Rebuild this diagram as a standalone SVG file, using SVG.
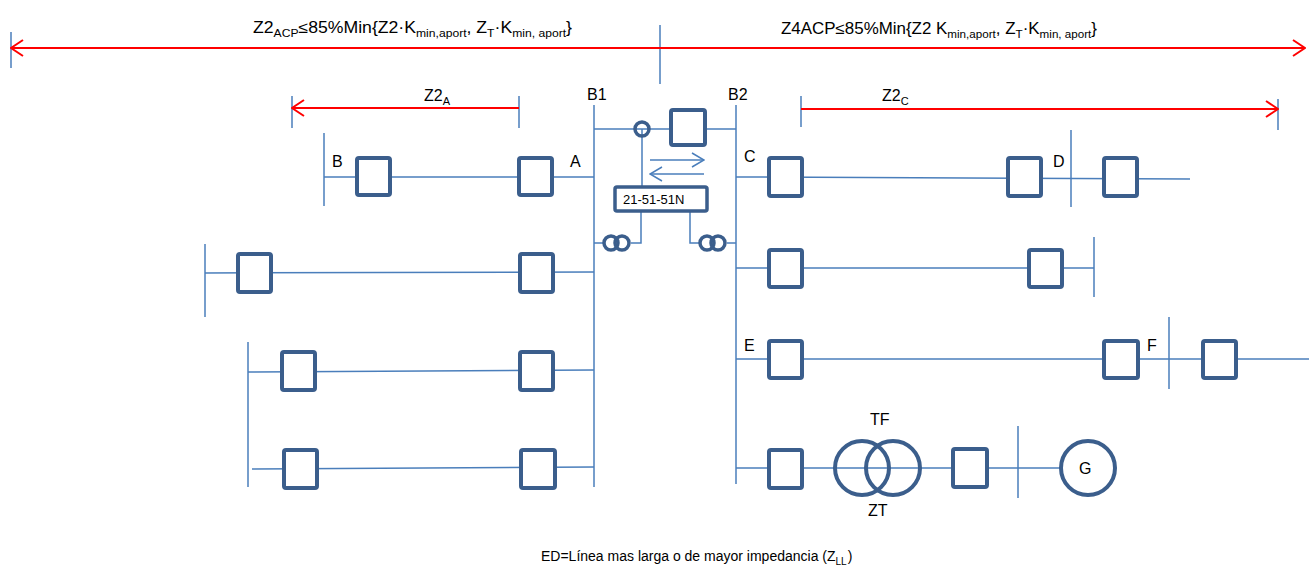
<svg xmlns="http://www.w3.org/2000/svg" width="1309" height="568" viewBox="0 0 1309 568">
<defs>
<style>
.ln{stroke:#4a7ebb;stroke-width:1.5;fill:none}
.rd{stroke:#ff0000;stroke-width:2;fill:none}
.bx{fill:#ffffff;stroke:#3b5e8c;stroke-width:4}
.ci{fill:none;stroke:#3b5e8c;stroke-width:4}
.t{font-family:"Liberation Sans",Arial,sans-serif;font-size:16px;fill:#000}
.s{font-size:11px}
</style>
<marker id="ar" viewBox="0 0 14 18" refX="13" refY="9" markerWidth="14" markerHeight="18" markerUnits="userSpaceOnUse" orient="auto-start-reverse">
<path d="M1,1 L13,9 L1,17" fill="none" stroke="#ff0000" stroke-width="2"/>
</marker>
<marker id="ab" viewBox="0 0 14 16" refX="13" refY="8" markerWidth="14" markerHeight="16" markerUnits="userSpaceOnUse" orient="auto-start-reverse">
<path d="M1,1 L13,8 L1,15" fill="none" stroke="#4a7ebb" stroke-width="1.5"/>
</marker>
</defs>
<rect width="1309" height="568" fill="#ffffff"/>

<g id="connectors">
<line class="ln" x1="11" y1="32" x2="11" y2="68"/>
<line class="ln" x1="660" y1="25" x2="660" y2="84"/>
<line class="rd" x1="11" y1="48" x2="1305" y2="48" marker-start="url(#ar)" marker-end="url(#ar)"/>
<line class="ln" x1="292" y1="96" x2="292" y2="128"/>
<line class="ln" x1="519" y1="96" x2="519" y2="128"/>
<line class="rd" x1="519" y1="108" x2="292" y2="108" marker-end="url(#ar)"/>
<line class="ln" x1="801" y1="96" x2="801" y2="127"/>
<line class="ln" x1="1278" y1="99" x2="1278" y2="130"/>
<line class="rd" x1="801" y1="109" x2="1278" y2="109" marker-end="url(#ar)"/>
<line class="ln" x1="594" y1="105" x2="594" y2="487"/>
<line class="ln" x1="736" y1="105" x2="736" y2="484"/>
<line class="ln" x1="594" y1="129" x2="736" y2="129"/>
<line class="ln" x1="642" y1="129" x2="642" y2="186"/>
<line class="ln" x1="650" y1="160" x2="704" y2="160" marker-end="url(#ab)"/>
<line class="ln" x1="704" y1="174" x2="650" y2="174" marker-end="url(#ab)"/>
<polyline class="ln" points="641,212 641,243 631,243"/>
<line class="ln" x1="594" y1="243" x2="603" y2="243"/>
<polyline class="ln" points="690,212 690,243 699,243"/>
<line class="ln" x1="727" y1="243" x2="736" y2="243"/>
<line class="ln" x1="324" y1="133" x2="324" y2="206"/>
<line class="ln" x1="324" y1="177" x2="594" y2="177"/>
<line class="ln" x1="205" y1="244" x2="205" y2="317"/>
<line class="ln" x1="205" y1="273" x2="594" y2="272"/>
<line class="ln" x1="248" y1="342" x2="248" y2="487"/>
<line class="ln" x1="248" y1="372" x2="594" y2="370"/>
<line class="ln" x1="252" y1="469" x2="594" y2="467"/>
<line class="ln" x1="736" y1="177" x2="1190" y2="179"/>
<line class="ln" x1="1071" y1="130" x2="1071" y2="207"/>
<line class="ln" x1="736" y1="268" x2="1094" y2="268"/>
<line class="ln" x1="1094" y1="237" x2="1094" y2="297"/>
<line class="ln" x1="736" y1="359" x2="1309" y2="359"/>
<line class="ln" x1="1169" y1="317" x2="1169" y2="389"/>
<line class="ln" x1="736" y1="468" x2="1062" y2="468"/>
<line class="ln" x1="1018" y1="426" x2="1018" y2="498"/>
</g>

<g id="texts">
<text class="t" x="253" y="33" textLength="319" lengthAdjust="spacingAndGlyphs">Z2<tspan class="s" dy="4">ACP</tspan><tspan dy="-4">≤85%Min{Z2·K</tspan><tspan class="s" dy="4">min,aport</tspan><tspan dy="-4">, Z</tspan><tspan class="s" dy="4">T</tspan><tspan dy="-4">·K</tspan><tspan class="s" dy="4">min, aport</tspan><tspan dy="-4">}</tspan></text>
<text class="t" x="781" y="34" textLength="316" lengthAdjust="spacingAndGlyphs">Z4ACP≤85%Min{Z2 K<tspan class="s" dy="4">min,aport</tspan><tspan dy="-4">, Z</tspan><tspan class="s" dy="4">T</tspan><tspan dy="-4">·K</tspan><tspan class="s" dy="4">min, aport</tspan><tspan dy="-4">}</tspan></text>
<text class="t" x="424" y="101">Z2<tspan class="s" dy="4">A</tspan></text>
<text class="t" x="882" y="101">Z2<tspan class="s" dy="4">C</tspan></text>
<text class="t" x="587" y="100">B1</text>
<text class="t" x="728" y="100">B2</text>
<text class="t" x="541" y="561" style="font-size:14px">ED=Línea mas larga o de mayor impedancia (Z<tspan class="s" dy="4" style="font-size:10px">LL</tspan><tspan dy="-4" dx="1">)</tspan></text>
</g>

<g id="coupler">
<circle class="ci" cx="642" cy="129" r="7" style="stroke-width:3.5"/>
<rect class="bx" x="671" y="110" width="34" height="35" rx="2"/>
</g>
<g id="relay">
<rect class="bx" x="615" y="187" width="92" height="24" rx="2" style="stroke-width:3.5"/>
<text class="t" x="623" y="204" style="font-size:13px">21-51-51N</text>
</g>
<g id="ct1">
<circle class="ci" cx="611" cy="243" r="7" style="stroke-width:3.5"/>
<circle class="ci" cx="622" cy="243" r="7" style="stroke-width:3.5"/>
</g>
<g id="ct2">
<circle class="ci" cx="707" cy="243" r="7" style="stroke-width:3.5"/>
<circle class="ci" cx="718" cy="243" r="7" style="stroke-width:3.5"/>
</g>

<g id="row-BA">
<rect class="bx" x="357" y="158" width="33" height="37" rx="2"/>
<rect class="bx" x="519" y="158" width="33" height="37" rx="2"/>
<text class="t" x="332" y="167">B</text>
<text class="t" x="570" y="167">A</text>
</g>
<g id="row-L2">
<rect class="bx" x="238" y="254" width="33" height="38" rx="2"/>
<rect class="bx" x="520" y="254" width="33" height="38" rx="2"/>
</g>
<g id="row-L3">
<rect class="bx" x="282" y="352" width="33" height="38" rx="2"/>
<rect class="bx" x="520" y="352" width="33" height="38" rx="2"/>
</g>
<g id="row-L4">
<rect class="bx" x="284" y="450" width="33" height="38" rx="2"/>
<rect class="bx" x="521" y="450" width="34" height="38" rx="2"/>
</g>

<g id="row-CD">
<rect class="bx" x="769" y="158" width="33" height="38" rx="2"/>
<rect class="bx" x="1008" y="158" width="33" height="38" rx="2"/>
<rect class="bx" x="1104" y="158" width="33" height="38" rx="2"/>
<text class="t" x="744" y="162">C</text>
<text class="t" x="1053" y="167">D</text>
</g>
<g id="row-R2">
<rect class="bx" x="769" y="250" width="33" height="37" rx="2"/>
<rect class="bx" x="1029" y="250" width="33" height="37" rx="2"/>
</g>
<g id="row-EF">
<rect class="bx" x="769" y="341" width="33" height="37" rx="2"/>
<rect class="bx" x="1104" y="341" width="34" height="37" rx="2"/>
<rect class="bx" x="1203" y="341" width="33" height="37" rx="2"/>
<text class="t" x="744" y="351">E</text>
<text class="t" x="1147" y="351">F</text>
</g>
<g id="row-TG">
<rect class="bx" x="769" y="450" width="33" height="38" rx="2"/>
<circle class="ci" cx="862" cy="468" r="27"/>
<circle class="ci" cx="893" cy="468" r="27"/>
<rect class="bx" x="953" y="449" width="34" height="38" rx="2"/>
<circle class="bx" cx="1088" cy="468" r="27"/>
<text class="t" x="870" y="425">TF</text>
<text class="t" x="868" y="516">ZT</text>
<text class="t" x="1079" y="474">G</text>
</g>
</svg>
